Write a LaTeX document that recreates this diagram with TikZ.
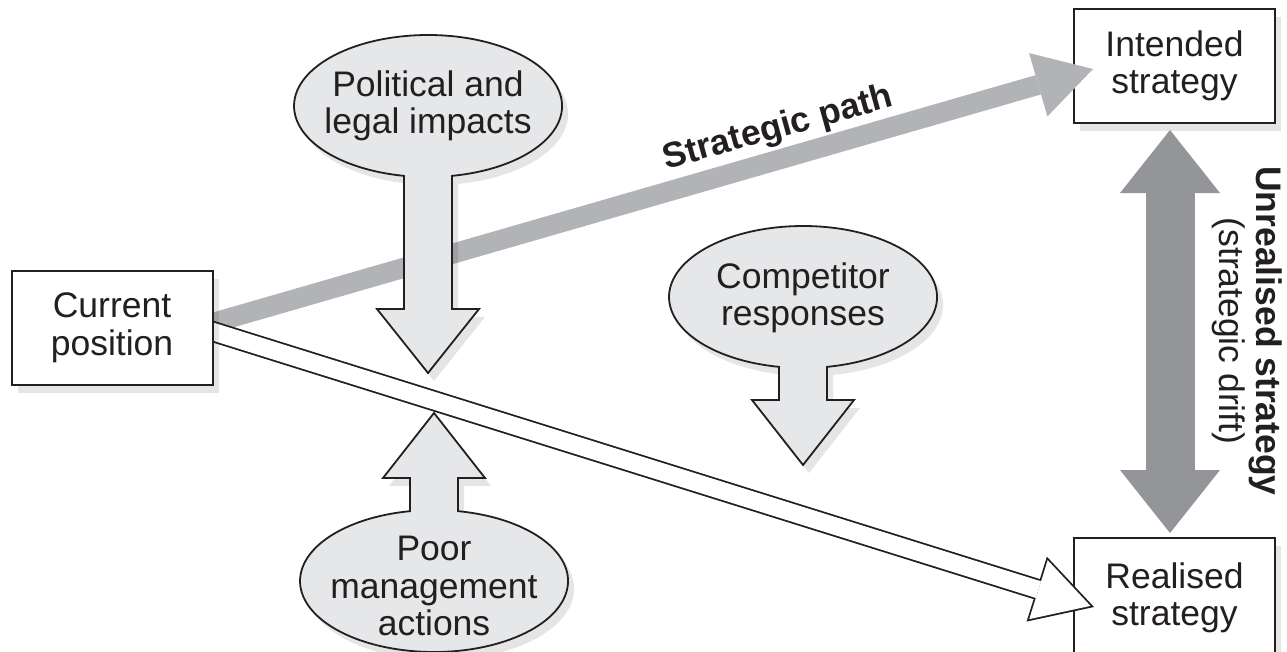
\documentclass[tikz,border=0pt]{standalone}
\usepackage{fontspec}
\setmainfont{Liberation Sans}
\usepackage{tikz}
\usetikzlibrary{calc,arrows.meta,shadows}
\definecolor{ink}{HTML}{231F20}
\definecolor{pathgrey}{HTML}{B1B3B6}
\definecolor{driftgrey}{HTML}{939598}
\definecolor{bubble}{HTML}{E6E7E8}
\tikzset{
  soft/.style={drop shadow={fill=black, opacity=0.10, shadow xshift=6pt, shadow yshift=-8pt}},
  lab/.style={text=ink, font=\fontsize{35.5}{37.5}\selectfont, align=center, inner sep=0pt},
  box/.style={lab, draw=ink, fill=white, line width=2pt, minimum width=201pt, minimum height=114pt, soft},
  callout/.style={draw=ink, fill=bubble, line width=1.8pt, line join=miter, soft},
  stratpath/.style={draw=pathgrey, line width=20pt, -{Triangle[length=57pt, width=66pt, line width=0pt]}},
  drift/.style={draw=driftgrey, line width=49pt,
    {Triangle[length=63pt, width=100pt, line width=0pt]}-{Triangle[length=63pt, width=100pt, line width=0pt]}},
  hollowout/.style={draw=ink, line width=21pt, -{Triangle[length=60pt, width=68pt, line width=0pt]}},
  hollowin/.style={draw=white, line width=17.4pt, shorten >=3.7pt, -{Triangle[length=54.5pt, width=61.8pt, line width=0pt]}},
}

\begin{document}
\begin{tikzpicture}[x=1pt, y=-1pt]
  \path[use as bounding box, fill=white] (0,0) rectangle (1287,651);
  \node[box] (int) at (1174.5,66) {Intended\\strategy};
  \node[box, minimum height=120pt] (real) at (1174.5,598) {Realised\\strategy};
  % the two strategies start behind the current position box
  \coordinate (ps) at (112,352);
  \coordinate (pe) at ($(int.west)+(20,3)$);
  \coordinate (ws) at (112,300);
  \coordinate (we) at ($(real.west)+(21,9)$);
  \coordinate (dt) at ($(int.south)+(-4.5,6)$);
  \coordinate (db) at ($(real.north)+(-4.5,-4)$);
  \draw[stratpath] (ps) -- (pe);
  \node[lab, rotate=15.5] (spl) at (778,129) {\bfseries Strategic path};
  \draw[hollowout] (ws) -- (we);
  \draw[hollowin] (ws) -- (we);
  % influences
  \draw[callout] (452,175.86) arc[start angle=79.7, end angle=-259.7, x radius=134, y radius=71]
    -- (404,309) -- (377,309) -- (428,373) -- (479,309) -- (452,309) -- cycle;
  \node[lab] (pol) at (428,106) {Political and\\legal impacts};
  \draw[callout] (827,366.86) arc[start angle=79.7, end angle=-259.7, x radius=134, y radius=71]
    -- (779,400) -- (752,400) -- (803,465) -- (854,400) -- (827,400) -- cycle;
  \node[lab] (comp) at (803,298) {Competitor\\responses};
  \draw[callout] (458,511.14) arc[start angle=-79.7, end angle=259.7, x radius=134, y radius=71]
    -- (410,478) -- (383,478) -- (434,413) -- (485,478) -- (458,478) -- cycle;
  \node[lab] (poor) at (434,586) {Poor\\management\\actions};
  % gap between intended and realised
  \draw[drift] (dt) -- (db);
  \node[lab, rotate=-90] (gap) at (1247,331) {\bfseries Unrealised strategy\\(strategic drift)};
  \node[box] (cur) at (112,328) {Current\\position};
\end{tikzpicture}
\end{document}
